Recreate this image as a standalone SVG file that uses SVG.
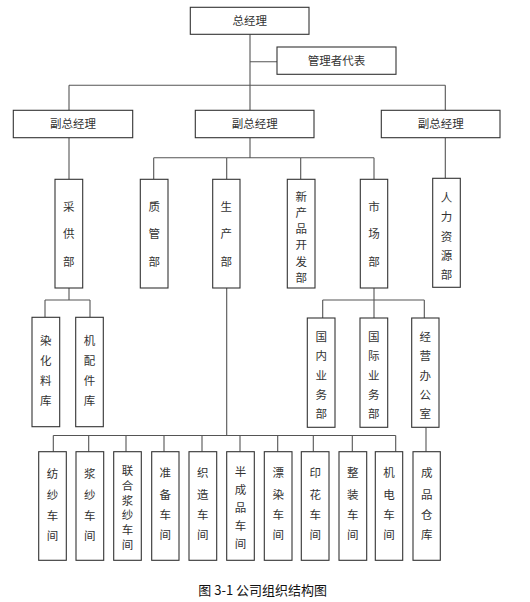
<svg xmlns="http://www.w3.org/2000/svg" width="530" height="602" viewBox="0 0 530 602">
<style>
.box{fill:#fff;stroke:#333;stroke-width:1.1}
.ln{fill:none;stroke:#555;stroke-width:1.1}
.t{font-family:"Noto Sans CJK SC","Noto Sans",sans-serif;font-size:11.5px;fill:#333;text-anchor:middle}
.cap{font-family:"Noto Sans CJK SC","Noto Sans",sans-serif;font-size:13px;fill:#111;text-anchor:middle}
</style>
<rect width="530" height="602" fill="#fff"/>
<g id="connectors">
<path class="ln" d="M250 34.3V110.3M250 61.7H277M69 85.3H445.3M69 85.3V110.3M445.3 85.3V110.3"/>
<path class="ln" d="M250 137.7V157.7M153.7 157.7H374M153.7 157.7V179.3M226.7 157.7V179.3M300.7 157.7V179.3M374 157.7V179.3"/>
<path class="ln" d="M69 137.7V179.3M445.3 137.7V178.3"/>
<path class="ln" d="M69 288V300M45 300H90M45 300V317.3M90 300V317.3"/>
<path class="ln" d="M374 288V300M322.7 300H424.3M322.7 300V318M374 300V318M424.3 300V318"/>
<path class="ln" d="M226.7 288V435.5M53.3 435.5H395.7M53.3 435.5V451.7M88.7 435.5V451.7M126 435.5V451.7M164 435.5V451.7M202 435.5V451.7M240 435.5V451.7M277.7 435.5V451.7M313.3 435.5V451.7M352.3 435.5V451.7M395.7 435.5V451.7"/>
<path class="ln" d="M426 427.3V451.7"/>
</g>
<g id="n-zjl"><rect class="box" x="190.3" y="7.3" width="118.7" height="27"/><text class="t" x="249.7" y="24.8">总经理</text></g>
<g id="n-glzdb"><rect class="box" x="277" y="47" width="119" height="27.3"/><text class="t" x="336.5" y="64.8">管理者代表</text></g>
<g id="n-fzjl1"><rect class="box" x="13.3" y="110.3" width="119.4" height="27.4"/><text class="t" x="73" y="128.1">副总经理</text></g>
<g id="n-fzjl2"><rect class="box" x="195.3" y="110.3" width="118.7" height="27.4"/><text class="t" x="254.7" y="128.1">副总经理</text></g>
<g id="n-fzjl3"><rect class="box" x="381.3" y="110.3" width="118.7" height="27.4"/><text class="t" x="440.7" y="128.1">副总经理</text></g>

<g id="n-cgb"><rect class="box" x="55" y="179.3" width="27.7" height="108.7"/><text class="t"><tspan x="68.8" y="210.7">采</tspan><tspan x="68.8" y="238">供</tspan><tspan x="68.8" y="266.3">部</tspan></text></g>
<g id="n-zgb"><rect class="box" x="140.3" y="179.3" width="27.7" height="108.7"/><text class="t"><tspan x="154.2" y="210.7">质</tspan><tspan x="154.2" y="238">管</tspan><tspan x="154.2" y="266.3">部</tspan></text></g>
<g id="n-scb"><rect class="box" x="212.7" y="179.3" width="27.3" height="108.7"/><text class="t"><tspan x="226.3" y="210.7">生</tspan><tspan x="226.3" y="238">产</tspan><tspan x="226.3" y="266.3">部</tspan></text></g>
<g id="n-xcp"><rect class="box" x="287.3" y="179.3" width="27.7" height="108.7"/><text class="t"><tspan x="301.2" y="200.5">新</tspan><tspan x="301.2" y="216.8">产</tspan><tspan x="301.2" y="233.1">品</tspan><tspan x="301.2" y="249.4">开</tspan><tspan x="301.2" y="265.7">发</tspan><tspan x="301.2" y="282">部</tspan></text></g>
<g id="n-scb2"><rect class="box" x="360.3" y="179.3" width="27.4" height="108.7"/><text class="t"><tspan x="374" y="210.7">市</tspan><tspan x="374" y="238">场</tspan><tspan x="374" y="266.3">部</tspan></text></g>
<g id="n-rlzy"><rect class="box" x="432.7" y="178.3" width="27.6" height="109"/><text class="t"><tspan x="446.5" y="202.3">人</tspan><tspan x="446.5" y="221.3">力</tspan><tspan x="446.5" y="240.5">资</tspan><tspan x="446.5" y="259.6">源</tspan><tspan x="446.5" y="278.5">部</tspan></text></g>

<g id="n-rhlk"><rect class="box" x="32" y="317.3" width="27.7" height="109.4"/><text class="t"><tspan x="45.8" y="344.7">染</tspan><tspan x="45.8" y="365">化</tspan><tspan x="45.8" y="384.7">料</tspan><tspan x="45.8" y="404.7">库</tspan></text></g>
<g id="n-jpjk"><rect class="box" x="75.7" y="317.3" width="27.6" height="109.4"/><text class="t"><tspan x="89.5" y="344.7">机</tspan><tspan x="89.5" y="365">配</tspan><tspan x="89.5" y="384.7">件</tspan><tspan x="89.5" y="404.7">库</tspan></text></g>
<g id="n-gnyw"><rect class="box" x="307.3" y="318" width="27.7" height="109.3"/><text class="t"><tspan x="321.2" y="340.7">国</tspan><tspan x="321.2" y="360">内</tspan><tspan x="321.2" y="380">业</tspan><tspan x="321.2" y="399">务</tspan><tspan x="321.2" y="418">部</tspan></text></g>
<g id="n-gjyw"><rect class="box" x="360" y="318" width="27.7" height="109.3"/><text class="t"><tspan x="373.8" y="340.7">国</tspan><tspan x="373.8" y="360">际</tspan><tspan x="373.8" y="380">业</tspan><tspan x="373.8" y="399">务</tspan><tspan x="373.8" y="418">部</tspan></text></g>
<g id="n-jybgs"><rect class="box" x="411.7" y="318" width="27.3" height="109.3"/><text class="t"><tspan x="425.3" y="340.7">经</tspan><tspan x="425.3" y="360">营</tspan><tspan x="425.3" y="380">办</tspan><tspan x="425.3" y="399">公</tspan><tspan x="425.3" y="418">室</tspan></text></g>

<g id="n-fscj"><rect class="box" x="38.7" y="451.7" width="27.6" height="108.6"/><text class="t"><tspan x="52.5" y="478.3">纺</tspan><tspan x="52.5" y="499">纱</tspan><tspan x="52.5" y="519.7">车</tspan><tspan x="52.5" y="539.7">间</tspan></text></g>
<g id="n-jscj"><rect class="box" x="76" y="451.7" width="27.7" height="108.6"/><text class="t"><tspan x="89.8" y="478.3">浆</tspan><tspan x="89.8" y="499">纱</tspan><tspan x="89.8" y="519.7">车</tspan><tspan x="89.8" y="539.7">间</tspan></text></g>
<g id="n-lhjs"><rect class="box" x="113.7" y="451.7" width="27.6" height="108.6"/><text class="t"><tspan x="127.5" y="474.7">联</tspan><tspan x="127.5" y="489.7">合</tspan><tspan x="127.5" y="504.5">浆</tspan><tspan x="127.5" y="519.3">纱</tspan><tspan x="127.5" y="534.2">车</tspan><tspan x="127.5" y="549">间</tspan></text></g>
<g id="n-zbcj"><rect class="box" x="151.7" y="451.7" width="27.3" height="108.6"/><text class="t"><tspan x="165.3" y="477.3">准</tspan><tspan x="165.3" y="499">备</tspan><tspan x="165.3" y="519">车</tspan><tspan x="165.3" y="539">间</tspan></text></g>
<g id="n-zzcj"><rect class="box" x="189" y="451.7" width="27.7" height="108.6"/><text class="t"><tspan x="202.8" y="477.3">织</tspan><tspan x="202.8" y="499">造</tspan><tspan x="202.8" y="519">车</tspan><tspan x="202.8" y="539">间</tspan></text></g>
<g id="n-bcp"><rect class="box" x="226.7" y="451.7" width="27.6" height="108.6"/><text class="t"><tspan x="240.5" y="475.7">半</tspan><tspan x="240.5" y="494">成</tspan><tspan x="240.5" y="512.3">品</tspan><tspan x="240.5" y="530.3">车</tspan><tspan x="240.5" y="548">间</tspan></text></g>
<g id="n-prcj"><rect class="box" x="264.3" y="451.7" width="27.7" height="108.6"/><text class="t"><tspan x="278.2" y="477.3">漂</tspan><tspan x="278.2" y="499">染</tspan><tspan x="278.2" y="519">车</tspan><tspan x="278.2" y="539">间</tspan></text></g>
<g id="n-yhcj"><rect class="box" x="301.3" y="451.7" width="27.7" height="108.6"/><text class="t"><tspan x="315.2" y="477.3">印</tspan><tspan x="315.2" y="499">花</tspan><tspan x="315.2" y="519">车</tspan><tspan x="315.2" y="539">间</tspan></text></g>
<g id="n-zzcj2"><rect class="box" x="339" y="451.7" width="27.7" height="108.6"/><text class="t"><tspan x="352.8" y="477.3">整</tspan><tspan x="352.8" y="499">装</tspan><tspan x="352.8" y="519">车</tspan><tspan x="352.8" y="539">间</tspan></text></g>
<g id="n-jdcj"><rect class="box" x="375.3" y="451.7" width="27.4" height="108.6"/><text class="t"><tspan x="389" y="477.3">机</tspan><tspan x="389" y="499">电</tspan><tspan x="389" y="519">车</tspan><tspan x="389" y="539">间</tspan></text></g>
<g id="n-cpck"><rect class="box" x="413" y="451.7" width="27.3" height="108.6"/><text class="t"><tspan x="426.7" y="477.3">成</tspan><tspan x="426.7" y="499">品</tspan><tspan x="426.7" y="519">仓</tspan><tspan x="426.7" y="539">库</tspan></text></g>

<text class="cap" x="262.7" y="595.3">图 3-1 公司组织结构图</text>
</svg>
